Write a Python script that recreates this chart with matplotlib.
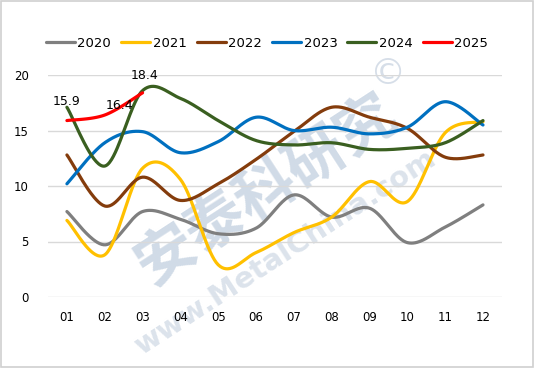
import numpy as np
import matplotlib
matplotlib.use("Agg")
import matplotlib.pyplot as plt
from matplotlib.patches import Rectangle

months = ["01", "02", "03", "04", "05", "06", "07", "08", "09", "10", "11", "12"]
years = ["2020", "2021", "2022", "2023", "2024", "2025"]
v2020 = [7.7, 4.7, 7.7, 7.0, 5.7, 6.2, 9.2, 7.2, 8.0, 4.9, 6.3, 8.3]
v2021 = [6.9, 3.8, 11.6, 10.6, 2.9, 4.0, 5.8, 7.2, 10.4, 8.6, 14.8, 15.8]
v2022 = [12.8, 8.2, 10.8, 8.7, 10.2, 12.4, 14.9, 17.1, 16.2, 15.2, 12.6, 12.8]
v2023 = [10.2, 13.9, 14.9, 13.0, 14.0, 16.2, 15.0, 15.3, 14.7, 15.3, 17.6, 15.5]
v2024 = [17.1, 11.8, 18.6, 17.9, 15.9, 14.1, 13.7, 13.9, 13.3, 13.4, 13.9, 15.9]
v2025 = [15.9, 16.4, 18.4]
series = [v2020, v2021, v2022, v2023, v2024, v2025]
colors = ["#7f7f7f", "#ffc000", "#843c0c", "#0070c0", "#3a5f20", "#ff0000"]


def smooth(ys, n=40):
    p = np.array([[i, y] for i, y in enumerate(ys)], dtype=float)
    if len(p) < 2:
        return p[:, 0], p[:, 1]
    ext = np.vstack([p[0], p, p[-1]])
    xs_out, ys_out = [], []
    for i in range(len(p) - 1):
        p0, p1, p2, p3 = ext[i], ext[i + 1], ext[i + 2], ext[i + 3]
        c1 = p1 + (p2 - p0) / 6.0
        c2 = p2 - (p3 - p1) / 6.0
        t = np.linspace(0, 1, n)[:, None]
        b = ((1 - t) ** 3) * p1 + 3 * ((1 - t) ** 2) * t * c1 + 3 * (1 - t) * t ** 2 * c2 + t ** 3 * p2
        xs_out.append(b[:, 0])
        ys_out.append(b[:, 1])
    return np.concatenate(xs_out), np.concatenate(ys_out)


plt.rcParams['font.family'] = ['DejaVu Sans']
fig = plt.figure(figsize=(5.34, 3.68), dpi=100)
fig.patches.append(Rectangle((0.002, 0.003), 0.996, 0.994, transform=fig.transFigure,
                             fill=False, edgecolor="#d0d0d0", linewidth=1.2))

ax = fig.add_axes([0.0899, 0.193, 0.850, 0.603])
ax.patch.set_alpha(0)
ax.set_xlim(-0.5, 11.5)
ax.set_ylim(0, 20)
ax.set_yticks([0, 5, 10, 15, 20])
ax.set_xticks(range(12))
ax.set_xticklabels(months)
ax.grid(axis="y", color="#d9d9d9", linewidth=1.0)
ax.set_axisbelow(True)
for s in ax.spines.values():
    s.set_visible(False)
ax.tick_params(length=0, labelsize=8.5, colors="black")
ax.tick_params(axis="x", pad=10)
ax.tick_params(axis="y", pad=14)

# watermark (behind the lines)
ax.text(0.50, 0.485, "安泰科研究", transform=fig.transFigure, fontsize=43, color="#c5d2e1",
        alpha=0.8, rotation=33, ha="center", va="center", family=["Noto Sans CJK SC"],
        weight="bold", zorder=0.5, clip_on=False)
ax.text(0.535, 0.315, "www.MetalChina.com", transform=fig.transFigure, fontsize=21,
        color="#d3dce7", alpha=0.8, rotation=33, ha="center", va="center", weight="bold",
        zorder=0.5, clip_on=False)
ax.text(0.727, 0.80, "©", transform=fig.transFigure, fontsize=26, color="#d6dee8",
        ha="center", va="center", zorder=0.5, clip_on=False)

handles = []
for yr, vals, c in zip(years, series, colors):
    xs, ys = smooth(vals)
    h, = ax.plot(xs, ys, color=c, linewidth=2.3, label=yr, clip_on=False,
                 solid_capstyle="round", zorder=3)
    handles.append(h)

label_pos = [(0.0, 17.6), (0.4, 17.3), (0.05, 20.0)]
for i, v in enumerate(v2025):
    lx, ly = label_pos[i]
    ax.text(i + lx, ly, f"{v:.1f}", fontsize=9, ha="center", va="center", zorder=4)

fig.legend(handles=handles, loc="center", bbox_to_anchor=(0.5, 0.882), ncol=6,
           frameon=False, fontsize=9.5, handlelength=2.2, handletextpad=0.2,
           columnspacing=0.75)

fig.savefig("out.png", dpi=100)
